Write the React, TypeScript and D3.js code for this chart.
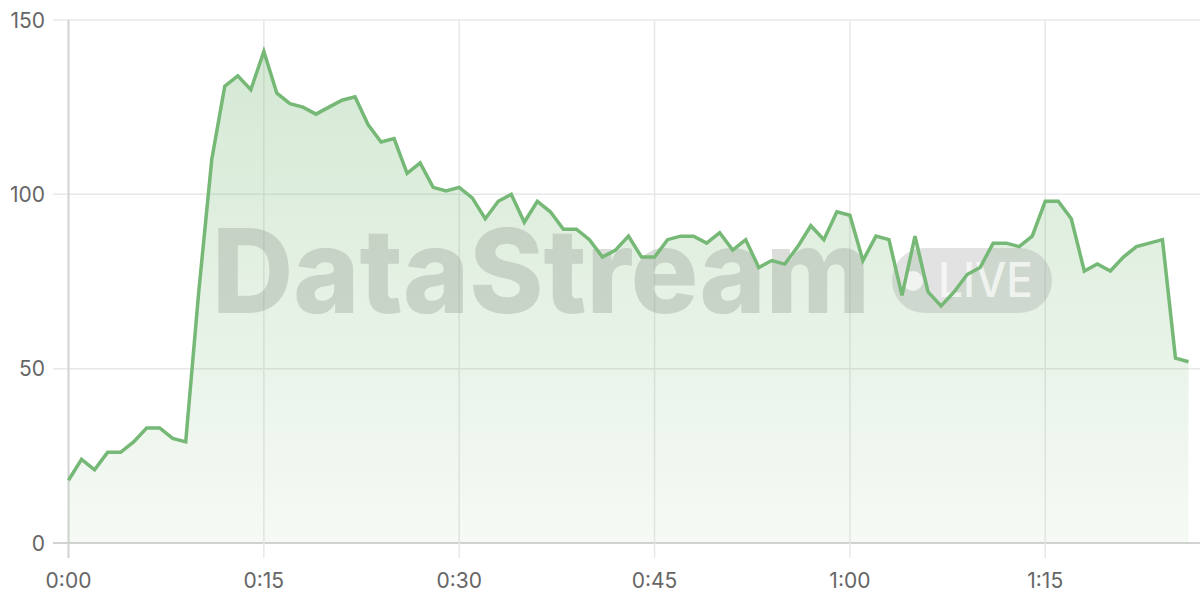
import React from "react";
import * as d3 from "d3";

const minutes: number[] = Array.from({ length: 87 }, (_, i) => i);
const values: number[] = [
  18, 24, 21, 26, 26, 29, 33, 33, 30, 29,
  72, 110, 131, 134, 130, 141, 129, 126, 125, 123,
  125, 127, 128, 120, 115, 116, 106, 109, 102, 101,
  102, 99, 93, 98, 100, 92, 98, 95, 90, 90,
  87, 82, 84, 88, 82, 82, 87, 88, 88, 86,
  89, 84, 87, 79, 81, 80, 85, 91, 87, 95,
  94, 81, 88, 87, 71, 88, 72, 68, 72, 77,
  79, 86, 86, 85, 88, 98, 98, 93, 78, 80,
  78, 82, 85, 86, 87, 53, 52,
];
const yTicks: number[] = [0, 50, 100, 150];
const xTicks: number[] = [0, 15, 30, 45, 60, 75];
const xTickLabels: string[] = ["0:00", "0:15", "0:30", "0:45", "1:00", "1:15"];
const watermarkText = "DataStream";
const liveText = "LIVE";

export default function App() {
  const W = 1200;
  const H = 600;
  const left = 68.5;
  const plotRight = 1188.5;
  const gridRight = 1200;
  const top = 20;
  const bottom = 543;

  const x = d3.scaleLinear().domain([0, 86]).range([left, plotRight]);
  const y = d3.scaleLinear().domain([0, 150]).range([bottom, top]);

  const data = minutes.map((m, i) => ({ m, v: values[i] }));
  const line = d3
    .line<{ m: number; v: number }>()
    .x((d) => x(d.m))
    .y((d) => y(d.v));
  const area = d3
    .area<{ m: number; v: number }>()
    .x((d) => x(d.m))
    .y0(y(0))
    .y1((d) => y(d.v));

  const font = "Inter, 'Noto Sans', sans-serif";

  return (
    <svg
      width={W}
      height={H}
      style={{ position: "absolute", left: 0, top: 0, background: "#fff" }}
    >
      <defs>
        <linearGradient id="fillGrad" gradientUnits="userSpaceOnUse" x1="0" y1={top} x2="0" y2={bottom}>
          <stop offset="0" stopColor="#76b876" stopOpacity={0.33} />
          <stop offset="1" stopColor="#76b876" stopOpacity={0.07} />
        </linearGradient>
      </defs>

      {yTicks.map((t) => (
        <line
          key={"h" + t}
          x1={53}
          x2={gridRight}
          y1={y(t)}
          y2={y(t)}
          stroke={t === 0 ? "#d2d2d2" : "#e8e8e8"}
          strokeWidth={t === 0 ? 2 : 1.5}
        />
      ))}
      {xTicks.map((t) => (
        <line
          key={"v" + t}
          x1={x(t)}
          x2={x(t)}
          y1={top}
          y2={558}
          stroke={t === 0 ? "#d2d2d2" : "#e8e8e8"}
          strokeWidth={t === 0 ? 2 : 1.5}
        />
      ))}

      <path d={area(data) || ""} fill="url(#fillGrad)" />

      <g>
        <text
          x={212}
          y={313}
          fontFamily={font}
          fontWeight={800}
          fontSize={117}
          textLength={658}
          lengthAdjust="spacingAndGlyphs"
          fill="rgb(140,150,140)"
          fillOpacity={0.32}
        >
          {watermarkText}
        </text>
        <rect x={892} y={248} width={160} height={65} rx={32.5} fill="rgb(150,150,150)" fillOpacity={0.28} />
        <circle cx={913} cy={281} r={10} fill="#ffffff" fillOpacity={0.7} />
        <text
          x={938}
          y={297}
          fontFamily={font}
          fontWeight={500}
          fontSize={48}
          textLength={95}
          lengthAdjust="spacingAndGlyphs"
          fill="#ffffff"
          fillOpacity={0.7}
        >
          {liveText}
        </text>
      </g>

      <path
        d={line(data) || ""}
        fill="none"
        stroke="#76b876"
        strokeWidth={3.5}
        strokeLinejoin="miter"
      />

      {yTicks.map((t) => (
        <text
          key={"yl" + t}
          x={45}
          y={y(t)}
          textAnchor="end"
          dominantBaseline="central"
          fontFamily={font}
          fontSize={21}
          fill="#666"
        >
          {t}
        </text>
      ))}
      {xTicks.map((t, i) => (
        <text
          key={"xl" + t}
          x={x(t)}
          y={580}
          textAnchor="middle"
          dominantBaseline="central"
          fontFamily={font}
          fontSize={21}
          fill="#666"
        >
          {xTickLabels[i]}
        </text>
      ))}
    </svg>
  );
}
